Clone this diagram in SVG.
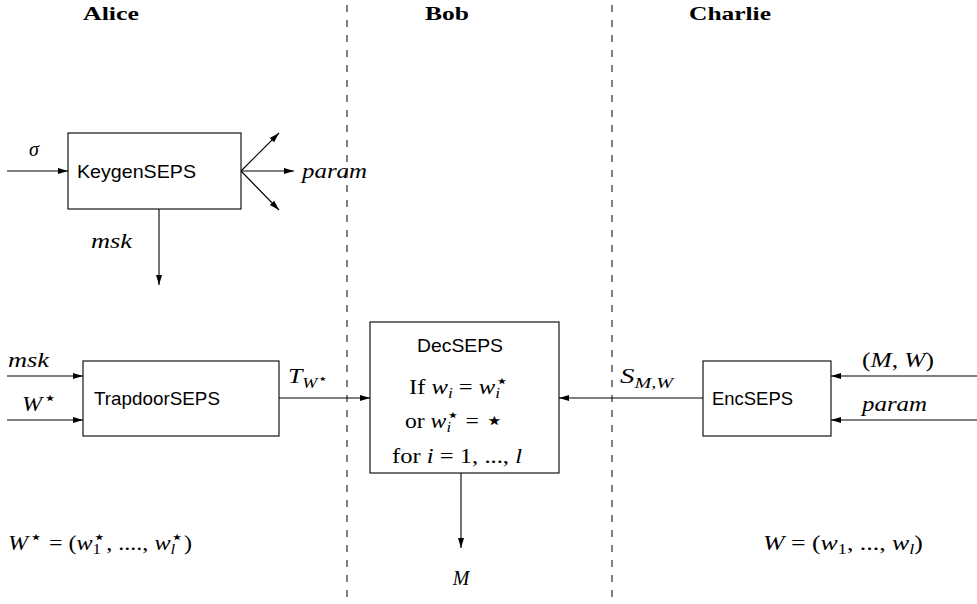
<svg xmlns="http://www.w3.org/2000/svg" width="977" height="604" viewBox="0 0 977 604">
<defs>
<marker id="ah" markerUnits="userSpaceOnUse" markerWidth="10" markerHeight="8" viewBox="0 0 10 8" refX="10" refY="4" orient="auto">
<path d="M0,1 L10,4 L0,7 z" fill="#000"/>
</marker>
<style>
.box{fill:#fff;stroke:#000;stroke-width:1.1}
.ln{fill:none;stroke:#000;stroke-width:1.1;marker-end:url(#ah)}
.dash{fill:none;stroke:#000;stroke-width:1;stroke-dasharray:7 8}
.hd{font-family:"Liberation Serif",serif;font-weight:bold;font-size:19px}
.sf{font-family:"Liberation Sans",sans-serif;font-size:19px}
.m{font-family:"Liberation Serif",serif;font-size:20px}
.i{font-style:italic}
.s{font-size:14px}
.st{font-family:"DejaVu Sans",sans-serif;font-size:18px;font-style:normal}
.st2{font-family:"DejaVu Sans",sans-serif;font-size:13px;font-style:normal}
.st3{font-family:"DejaVu Sans",sans-serif;font-size:26px;font-style:normal}
</style>
</defs>
<rect width="977" height="604" fill="#fff"/>
<g id="lanes">
<line class="dash" x1="347" y1="5" x2="347" y2="604"/>
<line class="dash" x1="612" y1="5" x2="612" y2="604"/>
<text class="hd" x="83" y="20" textLength="56" lengthAdjust="spacingAndGlyphs">Alice</text>
<text class="hd" x="425" y="20" textLength="44" lengthAdjust="spacingAndGlyphs">Bob</text>
<text class="hd" x="689" y="20" textLength="82" lengthAdjust="spacingAndGlyphs">Charlie</text>
</g>
<g id="connectors">
<line class="ln" x1="7" y1="171" x2="68" y2="171"/>
<line class="ln" x1="241" y1="171" x2="279" y2="133"/>
<line class="ln" x1="241" y1="171" x2="294" y2="171"/>
<line class="ln" x1="241" y1="171" x2="279" y2="210"/>
<line class="ln" x1="159" y1="209" x2="159" y2="285"/>
<line class="ln" x1="7" y1="376" x2="83" y2="376"/>
<line class="ln" x1="7" y1="420" x2="83" y2="420"/>
<line class="ln" x1="279" y1="398" x2="370" y2="398"/>
<line class="ln" x1="461" y1="473" x2="461" y2="548"/>
<line class="ln" x1="703" y1="398" x2="559" y2="398"/>
<line class="ln" x1="977" y1="376" x2="831" y2="376"/>
<line class="ln" x1="977" y1="420" x2="831" y2="420"/>
<text class="m i" x="29" y="156">σ</text>
<text class="m i" x="302" y="178" textLength="65" lengthAdjust="spacingAndGlyphs">param</text>
<text class="m i" x="91" y="248" textLength="41" lengthAdjust="spacingAndGlyphs">msk</text>
<text class="m i" x="8" y="367" textLength="41" lengthAdjust="spacingAndGlyphs">msk</text>
<text class="m" x="22" y="411" textLength="35" lengthAdjust="spacingAndGlyphs"><tspan class="i">W</tspan><tspan class="st" dx="1" dy="-7">⋆</tspan></text>
<text class="m" x="288" y="383" textLength="40" lengthAdjust="spacingAndGlyphs"><tspan class="i">T</tspan><tspan class="i s" dy="5">W</tspan><tspan class="st2" dy="-5">⋆</tspan></text>
<text class="m" x="620" y="383" textLength="53" lengthAdjust="spacingAndGlyphs"><tspan class="i">S</tspan><tspan class="i s" dy="5">M,W</tspan></text>
<text class="m" x="862" y="367" textLength="72" lengthAdjust="spacingAndGlyphs">(<tspan class="i">M</tspan>, <tspan class="i">W</tspan>)</text>
<text class="m i" x="862" y="411" textLength="65" lengthAdjust="spacingAndGlyphs">param</text>
<text class="m i" x="461" y="585" text-anchor="middle">M</text>
<text class="m" x="8" y="550" textLength="184" lengthAdjust="spacingAndGlyphs"><tspan class="i">W</tspan><tspan class="st" dx="1" dy="-7">⋆</tspan><tspan dy="7"> = (</tspan><tspan class="i">w</tspan><tspan class="s" dy="4">1</tspan><tspan class="st" dx="-7" dy="-11">⋆</tspan><tspan dy="7">, ...., </tspan><tspan class="i">w</tspan><tspan class="s i" dy="4">l</tspan><tspan class="st" dx="-4" dy="-11">⋆</tspan><tspan dy="7">)</tspan></text>
<text class="m" x="763" y="550" textLength="160" lengthAdjust="spacingAndGlyphs"><tspan class="i">W</tspan> = (<tspan class="i">w</tspan><tspan class="s" dy="4">1</tspan><tspan dy="-4">, ..., </tspan><tspan class="i">w</tspan><tspan class="s i" dy="4">l</tspan><tspan dy="-4">)</tspan></text>
</g>
<g id="keygen">
<rect class="box" x="68" y="133" width="173" height="76"/>
<text class="sf" x="77" y="178" textLength="119" lengthAdjust="spacingAndGlyphs">KeygenSEPS</text>
</g>
<g id="trapdoor">
<rect class="box" x="83" y="361" width="196" height="75"/>
<text class="sf" x="94" y="405" textLength="126" lengthAdjust="spacingAndGlyphs">TrapdoorSEPS</text>
</g>
<g id="dec">
<rect class="box" x="370" y="322" width="189" height="151"/>
<text class="sf" x="417" y="352" textLength="86" lengthAdjust="spacingAndGlyphs">DecSEPS</text>
<text class="m" x="409" y="394" textLength="100" lengthAdjust="spacingAndGlyphs">If <tspan class="i">w</tspan><tspan class="s i" dy="4">i</tspan><tspan dy="-4"> = </tspan><tspan class="i">w</tspan><tspan class="s i" dy="4">i</tspan><tspan class="st" dx="-4" dy="-11">⋆</tspan></text>
<text class="m" x="405" y="428" textLength="99" lengthAdjust="spacingAndGlyphs">or <tspan class="i">w</tspan><tspan class="s i" dy="4">i</tspan><tspan class="st" dx="-4" dy="-11">⋆</tspan><tspan dy="7"> = </tspan><tspan class="st3" dy="1">⋆</tspan></text>
<text class="m" x="392" y="463" textLength="130" lengthAdjust="spacingAndGlyphs">for <tspan class="i">i</tspan> = 1, ..., <tspan class="i">l</tspan></text>
</g>
<g id="enc">
<rect class="box" x="703" y="361" width="128" height="75"/>
<text class="sf" x="712" y="405" textLength="81" lengthAdjust="spacingAndGlyphs">EncSEPS</text>
</g>
</svg>
